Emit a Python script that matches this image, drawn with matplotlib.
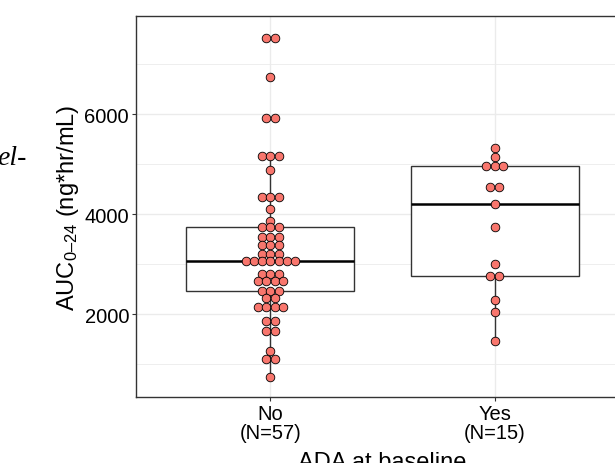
import numpy as np
import matplotlib.pyplot as plt

plt.rcParams['font.family'] = ['Liberation Sans', 'DejaVu Sans']
plt.rcParams['mathtext.fontset'] = 'custom'
plt.rcParams['mathtext.rm'] = 'Liberation Sans'
plt.rcParams['mathtext.it'] = 'Liberation Sans:italic'

# data
groups = ['No', 'Yes']
group_n = [57, 15]
auc_no = [7530, 7530, 6750, 5920, 5920, 5160, 5160, 5160, 4890,
          4340, 4340, 4340, 4110, 3870,
          3740, 3740, 3740, 3550, 3550, 3550, 3380, 3380, 3380,
          3210, 3210, 3210, 3060, 3060, 3060, 3060, 3060, 3060, 3060,
          2810, 2810, 2810, 2670, 2670, 2670, 2670, 2460, 2460, 2460,
          2330, 2330, 2150, 2150, 2150, 2150, 1870, 1870, 1670, 1670,
          1260, 1100, 1100, 750]
auc_yes = [5320, 5140, 4970, 4970, 4970, 4550, 4550, 4210, 3750,
           3010, 2760, 2760, 2290, 2050, 1460]

y_ticks = [2000, 4000, 6000]
y_minor = [1000, 3000, 5000, 7000]


def dot_offsets(vals, step):
    # centre-stacked dots, like geom_dotplot(stackdir="center")
    vals = np.asarray(vals)
    xs = np.zeros(len(vals))
    for v in np.unique(vals):
        idx = np.where(vals == v)[0]
        k = len(idx)
        xs[idx] = (np.arange(k) - (k - 1) / 2) * step
    return xs


fig = plt.figure(figsize=(6.15, 4.64), dpi=100)
ax = fig.add_axes([136 / 615, 1 - 398 / 464, 493 / 615, (398 - 17) / 464])

ax.boxplot([auc_no, auc_yes], positions=[1, 2], widths=0.75, whis=1.5,
           showfliers=False, showcaps=False, patch_artist=True,
           boxprops=dict(facecolor='white', edgecolor='#333333', lw=1),
           whiskerprops=dict(color='#333333', lw=1),
           medianprops=dict(color='black', lw=1.8), zorder=2)

step = 0.037
for pos, vals in zip([1, 2], [auc_no, auc_yes]):
    xs = pos + dot_offsets(vals, step)
    ax.plot(xs, vals, 'o', ms=6.2, mfc='#F8766D', mec='black', mew=0.6,
            ls='none', zorder=3)

ax.set_xlim(0.4, 2.6)
ax.set_ylim(340, 7966)
ax.set_yticks(y_ticks)
ax.set_yticks(y_minor, minor=True)
ax.set_xticks([1, 2])
ax.set_xticklabels([f'{g}\n(N={n})' for g, n in zip(groups, group_n)],
                   linespacing=1.0)

ax.grid(which='major', color='#EBEBEB', lw=1.0)
ax.grid(which='minor', axis='y', color='#EBEBEB', lw=0.6)
ax.set_axisbelow(True)

for s in ax.spines.values():
    s.set_color('#333333')
    s.set_linewidth(1.0)

ax.tick_params(which='major', length=3, width=0.8, color='#333333',
               labelsize=14.5, labelcolor='black', pad=2)
ax.tick_params(which='minor', length=0)

ax.set_ylabel('AUC$_{\\mathregular{0\u201324}}$ (ng*hr/mL)', fontsize=17, va='center')
ax.yaxis.set_label_coords(-0.138, 0.5)

# axis title is cut by the bottom edge in the reference too
fig.text(0.622, -0.011, 'ADA at baseline', fontsize=17, ha='center', va='baseline')

# stray text from the surrounding page
fig.text(27 / 615, 1 - 165 / 464, 'el-', fontsize=20, family='Liberation Serif',
         style='italic', ha='right', va='baseline')

fig.savefig('out.png', dpi=100)
